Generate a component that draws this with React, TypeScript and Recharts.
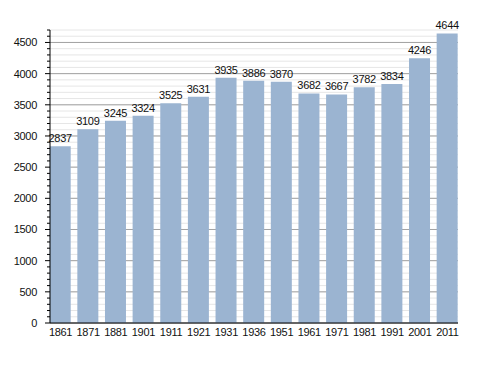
import { BarChart, Bar, XAxis, YAxis, CartesianGrid, LabelList } from 'recharts'

const years = ['1861', '1871', '1881', '1901', '1911', '1921', '1931', '1936', '1951', '1961', '1971', '1981', '1991', '2001', '2011']
const population = [2837, 3109, 3245, 3324, 3525, 3631, 3935, 3886, 3870, 3682, 3667, 3782, 3834, 4246, 4644]
const majorTicks = [0, 500, 1000, 1500, 2000, 2500, 3000, 3500, 4000, 4500]
const allTicks = Array.from({ length: 48 }, (_, i) => i * 100)

const data = years.map((year, i) => ({ year, value: population[i] }))

const font = { fontSize: 11, fill: '#111', letterSpacing: -0.3, fontFamily: '"Liberation Sans", Arial, sans-serif' }

// every 100 gets a short tick, every 500 a longer one with a label
function YTick(props: any) {
  const { x, y, payload } = props
  const v = payload.value as number
  if (v % 500 !== 0) return <g />
  return (
    <g>
      <line x1={x + 4} x2={x + 6} y1={y} y2={y} stroke="#000" />
      <text x={x - 4} y={y} dy={4} textAnchor="end" {...font}>{v}</text>
    </g>
  )
}

export default function App() {
  return (
    <div style={{ position: 'absolute', left: 0, top: 0, background: '#fff' }}>
      <BarChart width={488} height={373} data={data} margin={{ top: 30, right: 30, bottom: 20, left: 0 }}>
        <CartesianGrid vertical={false} stroke="#e6e6e6" />
        <CartesianGrid vertical={false} horizontalValues={majorTicks} stroke="#a3a3a3" />
        <XAxis
          dataKey="year"
          tick={font}
          tickLine={false}
          axisLine={{ stroke: '#000' }}
          padding={{ left: -3.3, right: -3.3 }}
          interval={0}
          tickMargin={-1}
        />
        <YAxis
          domain={[0, 4700]}
          ticks={allTicks}
          interval={0}
          width={50}
          tick={<YTick />}
          tickSize={3}
          tickMargin={6}
          tickLine={{ stroke: '#000' }}
          axisLine={{ stroke: '#000' }}
        />
        <Bar dataKey="value" fill="#9bb4d1" barSize={21} isAnimationActive={false}>
          <LabelList dataKey="value" position="top" offset={4} style={font} />
        </Bar>
      </BarChart>
    </div>
  )
}
